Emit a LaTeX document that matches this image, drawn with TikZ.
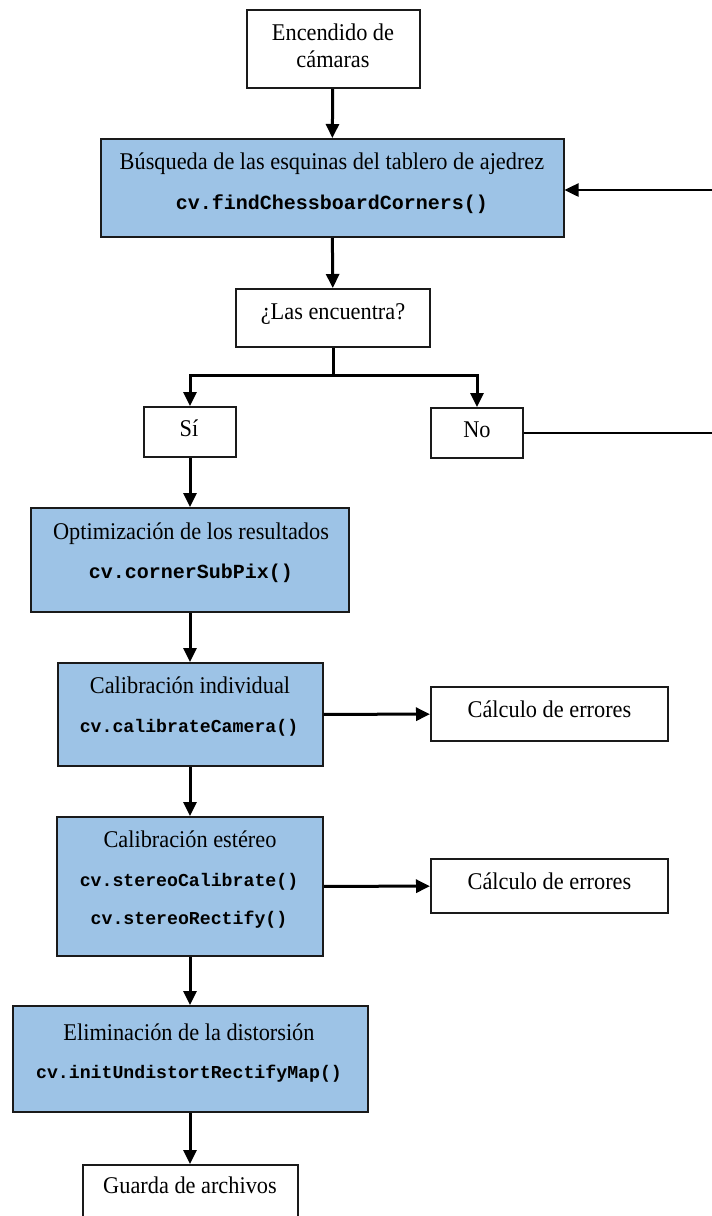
\documentclass[tikz,border=0pt]{standalone}
\usepackage{fontspec}
\setmainfont{Liberation Serif}[FakeStretch=0.93]
\setmonofont{Liberation Mono}
\usetikzlibrary{arrows.meta}
\definecolor{boxblue}{HTML}{9DC3E6}
\definecolor{edgecol}{HTML}{1A1A1A}
\tikzset{
  plainbox/.style={draw=edgecol, line width=2pt, fill=white, inner sep=0pt},
  bluebox/.style={plainbox, fill=boxblue},
  lbl/.style={anchor=base, inner sep=0pt, text=black, font=\fontsize{24}{28}\selectfont},
  code/.style={anchor=base, inner sep=0pt, text=black, font=\fontsize{18.2}{22}\selectfont\ttfamily\bfseries},
  codebig/.style={code, font=\fontsize{20}{24}\selectfont\ttfamily\bfseries},
  tip/.style={-{Triangle[length=14pt,width=13pt]}},
  arr/.style={line width=3pt, draw=black, tip},
  wire/.style={line width=2.5pt, draw=black},
}
\begin{document}
\begin{tikzpicture}[x=1pt,y=-1pt]
\useasboundingbox (0,0) rectangle (712,1216);
\clip (0,0) rectangle (712,1216);
\fill[white] (0,0) rectangle (712,1216);

% boxes
\node[plainbox, minimum width=173pt, minimum height=78pt] (enc) at (333,49) {};
\node[bluebox, minimum width=463pt, minimum height=98pt] (b1) at (332,188) {};
\node[plainbox, minimum width=194pt, minimum height=58pt] (q) at (333,318) {};
\node[plainbox, minimum width=92pt, minimum height=50pt] (si) at (190,432) {};
\node[plainbox, minimum width=92pt, minimum height=50pt] (no) at (477,433) {};
\node[bluebox, minimum width=318pt, minimum height=104pt] (opt) at (190,560) {};
\node[bluebox, minimum width=265pt, minimum height=103pt] (cal) at (190,714.5) {};
\node[plainbox, minimum width=237pt, minimum height=54pt] (err1) at (549.5,714) {};
\node[bluebox, minimum width=266pt, minimum height=139pt] (ste) at (190,886.5) {};
\node[plainbox, minimum width=237pt, minimum height=54pt] (err2) at (549.5,886) {};
\node[bluebox, minimum width=355pt, minimum height=106pt] (eli) at (190,1059) {};
\node[plainbox, minimum width=215pt, minimum height=76pt] (gua) at (190,1203) {};

% connectors
\draw[arr] (enc) -- (b1);
\draw[arr] (b1) -- (q);
\coordinate (br) at (333,375);
\draw[arr] (q.south) -- (br) -| (si.north);
\draw[arr] (br) -| (no.north);
\coordinate (loopR) at (718,190);
\draw[wire, tip] (no.east) -- (no.east -| loopR) -- (loopR) -- (loopR -| b1.east);
\draw[arr] (si) -- (opt);
\draw[arr] (opt) -- (cal);
\draw[arr] (cal) -- (err1);
\draw[arr] (cal) -- (ste);
\draw[arr] (ste) -- (err2);
\draw[arr] (ste) -- (eli);
\draw[arr] (eli) -- (gua);

% texts
\node[lbl] (enc-t1) at (333,40) {Encendido de};
\node[lbl] (enc-t2) at (333,67) {cámaras};
\node[lbl] (b1-t) at (332,169) {Búsqueda de las esquinas del tablero de ajedrez};
\node[codebig] (b1-c) at (332,209) {cv.findChessboardCorners()};
\node[lbl] (q-t) at (333,319) {¿Las encuentra?};
\node[lbl] (si-t) at (189,436) {Sí};
\node[lbl] (no-t) at (477,437) {No};
\node[lbl] (opt-t) at (191,539) {Optimización de los resultados};
\node[codebig] (opt-c) at (191,578) {cv.cornerSubPix()};
\node[lbl] (cal-t) at (190,693) {Calibración individual};
\node[code] (cal-c) at (189,732) {cv.calibrateCamera()};
\node[lbl] (err1-t) at (549.5,717) {Cálculo de errores};
\node[lbl] (ste-t) at (190,847) {Calibración estéreo};
\node[code] (ste-c1) at (189,886) {cv.stereoCalibrate()};
\node[code] (ste-c2) at (189,924) {cv.stereoRectify()};
\node[lbl] (err2-t) at (549.5,889) {Cálculo de errores};
\node[lbl] (eli-t) at (189,1040) {Eliminación de la distorsión};
\node[code] (eli-c) at (189,1078) {cv.initUndistortRectifyMap()};
\node[lbl] (gua-t) at (190,1193) {Guarda de archivos};
\end{tikzpicture}
\end{document}
